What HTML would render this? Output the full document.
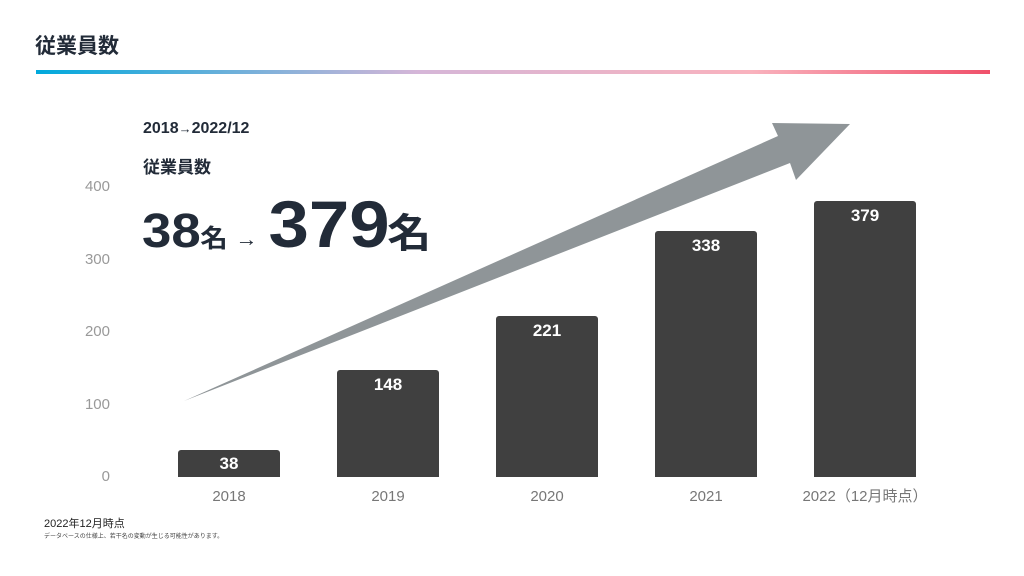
<!DOCTYPE html>
<html><head><meta charset="utf-8"><style>
body{margin:0;width:1024px;height:576px;background:#fff;position:relative;overflow:hidden;font-family:"Liberation Sans","Noto Sans CJK JP",sans-serif}
.a{position:absolute;white-space:nowrap}
.bar{position:absolute;background:#404040;width:102px;border-radius:3px 3px 0 0;color:#fff;font-weight:bold;font-size:17px;text-align:center;padding-top:5px;box-sizing:border-box}
.yl{position:absolute;right:914px;color:#999;font-size:15px}
.xl{position:absolute;width:160px;text-align:center;color:#777;font-size:15px;top:488px;line-height:18px}
</style></head><body>
<div class="a" style="left:35px;top:30px;font-size:21px;font-weight:bold;color:#222b38">従業員数</div>
<div class="a" style="left:36px;top:70px;width:954px;height:4px;background:linear-gradient(90deg,#00a9dc,#d5b6d8 40%,#f9b2bd 75%,#f0506a)"></div>
<svg class="a" style="left:0;top:0" width="1024" height="576"><polygon points="184,401 778,136 772,123 850,124 796,180 790,163" fill="#8f9598"/></svg>
<div class="a" style="left:143px;top:120px;font-size:16px;font-weight:bold;color:#222b38">2018<span style="font-weight:normal;font-size:13px">→</span>2022/12</div>
<div class="a" style="left:143px;top:153px;font-size:17px;font-weight:bold;color:#222b38">従業員数</div>
<svg class="a" style="left:0;top:0" width="1024" height="576" font-family="Liberation Sans, Noto Sans CJK JP, sans-serif" font-weight="bold" fill="#222b38">
<g transform="translate(142,247) scale(1.1,1) translate(-142,-247)">
<text x="142" y="247" font-size="48">38</text>
<text x="195" y="247" font-size="25">名</text>
<text x="227" y="246" font-size="20" font-weight="normal">→</text>
<text x="257" y="247" font-size="66">379</text>
<text x="365" y="247" font-size="40">名</text>
</g>
</svg>
<div class="yl" style="top:178px">400</div><div class="yl" style="top:251px">300</div><div class="yl" style="top:323px">200</div><div class="yl" style="top:396px">100</div><div class="yl" style="top:468px">0</div>
<div class="bar" style="left:178px;top:450px;height:27px;padding-top:4px">38</div>
<div class="bar" style="left:337px;top:370px;height:107px">148</div>
<div class="bar" style="left:496px;top:316px;height:161px">221</div>
<div class="bar" style="left:655px;top:231px;height:246px">338</div>
<div class="bar" style="left:814px;top:201px;height:276px">379</div>
<div class="xl" style="left:149px">2018</div><div class="xl" style="left:308px">2019</div><div class="xl" style="left:467px">2020</div><div class="xl" style="left:626px">2021</div><div class="xl" style="left:785px">2022（12月時点）</div>
<div class="a" style="left:44px;top:515px;font-size:11px;color:#222">2022年12月時点</div>
<div class="a" style="left:44px;top:531px;font-size:6px;color:#444">データベースの仕様上、若干名の変動が生じる可能性があります。</div>
</body></html>
